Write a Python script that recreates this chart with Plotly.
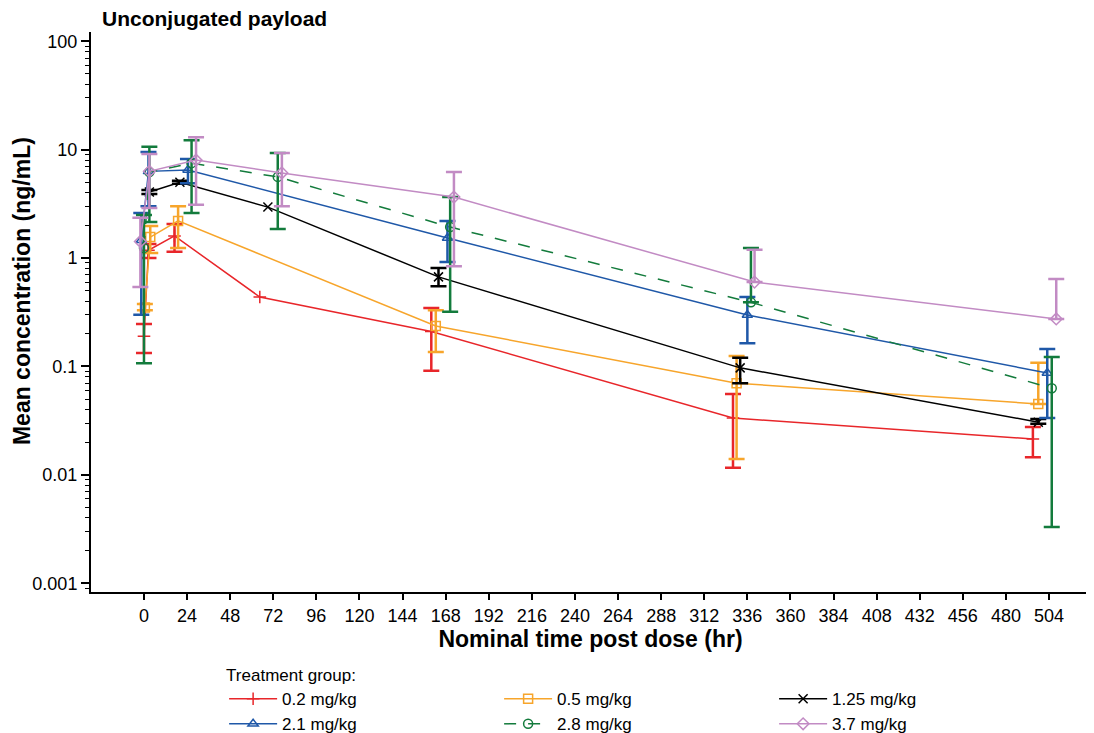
import plotly.graph_objects as go

# nominal time post dose (hr), mean conc (ng/mL), error bar ends (None = not drawn)
red_t = [0, 2.5, 17, 64.5, 160, 328, 495]
red_y = [0.19, 1.18, 1.6, 0.437, 0.21, 0.0334, 0.0214]
red_lo = [0.133, 1.0, 1.14, None, 0.091, 0.0116, 0.0145]
red_hi = [0.246, 1.35, 2.06, None, 0.345, 0.0557, 0.0276]

orange_t = [0.5, 3.5, 19, 162.5, 330, 498]
orange_y = [0.35, 1.56, 2.2, 0.236, 0.070, 0.045]
orange_lo = [0.33, 1.11, 1.24, 0.136, 0.014, 0.045]
orange_hi = [0.377, 1.97, 3.0, 0.33, 0.125, 0.108]

black_t = [3, 20, 69, 164, 332, 498]
black_y = [4.06, 5.0, 2.95, 0.67, 0.097, 0.0306]
black_lo = [3.9, 4.85, None, 0.55, 0.07, 0.0296]
black_hi = [4.25, 5.15, None, 0.81, 0.12, 0.0327]

blue_t = [-1.5, 2.5, 24.5, 169, 336, 503]
blue_y = [1.46, 6.3, 6.5, 1.53, 0.298, 0.087]
blue_lo = [0.30, 3.0, 4.9, 0.92, 0.164, 0.0334]
blue_hi = [2.6, 9.5, 8.2, 2.2, 0.437, 0.145]

green_t = [0, 3, 26.5, 74.5, 170.5, 338, 505.5]
green_y = [1.24, 6.2, 7.5, 5.6, 1.93, 0.39, 0.063]
green_lo = [0.107, 2.15, 2.6, 1.85, 0.32, 0.39, 0.0033]
green_hi = [2.5, 10.6, 12.2, 9.3, 3.65, 1.24, 0.122]

pink_t = [-2, 3, 29, 76.8, 172.6, 340, 508]
pink_y = [1.42, 6.3, 8.0, 6.1, 3.65, 0.60, 0.274]
pink_lo = [0.54, 2.9, 3.1, 3.0, 0.84, 0.60, 0.274]
pink_hi = [2.35, 9.1, 13.0, 9.3, 6.2, 1.19, 0.64]

group_names = ["0.2 mg/kg", "0.5 mg/kg", "1.25 mg/kg", "2.1 mg/kg", "2.8 mg/kg", "3.7 mg/kg"]

x_ticks = list(range(0, 505, 24))
y_tickvals = [100, 10, 1, 0.1, 0.01, 0.001]
y_ticktext = ["100", "10", "1", "0.1", "0.01", "0.001"]

groups = [
    (red_t, red_y, red_lo, red_hi, "#e8262a", "cross-thin", "solid"),
    (orange_t, orange_y, orange_lo, orange_hi, "#f7a52b", "square-open", "solid"),
    (black_t, black_y, black_lo, black_hi, "#000000", "x-thin", "solid"),
    (blue_t, blue_y, blue_lo, blue_hi, "#1f58a8", "triangle-up-open", "solid"),
    (green_t, green_y, green_lo, green_hi, "#137b3c", "circle-open", "12px,12px"),
    (pink_t, pink_y, pink_lo, pink_hi, "#c28bc4", "diamond-open", "solid"),
]

font = "Arial, Liberation Sans, sans-serif"
fig = go.Figure()

for name, (t, y, lo, hi, col, sym, dash) in zip(group_names, groups):
    keep = [i for i in range(len(t)) if lo[i] is not None]
    fig.add_trace(go.Scatter(
        x=[t[i] for i in keep], y=[y[i] for i in keep],
        mode="markers", marker=dict(opacity=0),
        error_y=dict(type="data", symmetric=False,
                     array=[hi[i] - y[i] for i in keep],
                     arrayminus=[y[i] - lo[i] for i in keep],
                     color=col, thickness=2.5, width=8),
        showlegend=False, hoverinfo="skip"))
    fig.add_trace(go.Scatter(
        x=t, y=y, name=name, mode="lines+markers",
        line=dict(color=col, width=1.5, dash=dash),
        marker=dict(symbol=sym, size=9, color=col, line=dict(color=col, width=1.5))))

# y title sits a bit above the middle of the axis in the original, so use an annotation
fig.add_annotation(text="<b>Mean concentration (ng/mL)</b>", textangle=-90,
                   xref="paper", yref="paper", x=-0.069, y=0.5375,
                   xanchor="center", yanchor="middle", showarrow=False, font=dict(size=23))

# page body has an 8px margin, so the figure is 8px smaller than the window
fig.update_layout(
    width=1086, height=725,
    paper_bgcolor="white", plot_bgcolor="white",
    margin=dict(l=83, r=4, t=24, b=141),
    font=dict(family=font, size=16, color="black"),
    title=dict(text="<b>Unconjugated payload</b>", x=0.011, xref="paper", xanchor="left",
               y=0.986, yanchor="middle", font=dict(size=21)),
    xaxis=dict(range=[-29.5, 526.8], tickvals=x_ticks, showgrid=False, zeroline=False,
               showline=True, linecolor="black", linewidth=2, ticks="outside", ticklen=6,
               tickwidth=1.5, tickcolor="black", tickfont=dict(size=18), automargin=False,
               title=dict(text="<b>Nominal time post dose (hr)</b>", font=dict(size=23), standoff=4)),
    yaxis=dict(type="log", range=[-3.081, 2.085], tickvals=y_tickvals, ticktext=y_ticktext,
               showgrid=False, zeroline=False, showline=True, linecolor="black", linewidth=2,
               ticks="outside", ticklen=8, tickwidth=1.5, tickcolor="black", tickfont=dict(size=18),
               automargin=False,
               minor=dict(ticks="outside", ticklen=4, tickcolor="black", tickwidth=1, dtick="D1", showgrid=False)),
    legend=dict(orientation="h", xref="container", yref="container", x=0.199, xanchor="left",
                y=0.102, yanchor="top",
                title=dict(text="Treatment group:", side="top", font=dict(size=17)),
                entrywidth=212, itemwidth=48, font=dict(size=17), tracegroupgap=0),
    showlegend=True,
)

fig.write_html("out.html")
